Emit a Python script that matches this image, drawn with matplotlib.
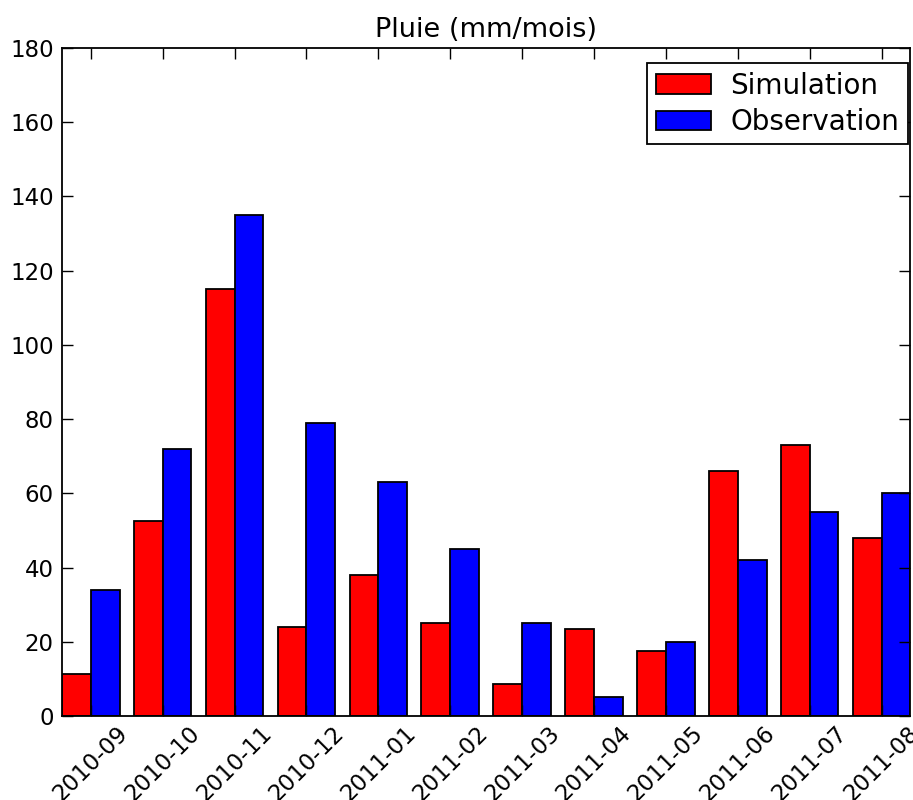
import numpy as np
import matplotlib
matplotlib.use("Agg")
import matplotlib.pyplot as plt

months = ["2010-09", "2010-10", "2010-11", "2010-12", "2011-01", "2011-02",
          "2011-03", "2011-04", "2011-05", "2011-06", "2011-07", "2011-08"]
simulation = [11.2, 52.5, 115, 24, 38, 25, 8.5, 23.5, 17.5, 66, 73, 48]
observation = [34, 72, 135, 79, 63, 45, 25, 5, 20, 42, 55, 60]

plt.rcParams['font.family'] = 'DejaVu Sans'

fig = plt.figure(figsize=(9.13, 8), dpi=100)
ax = fig.add_axes([0.068, 0.105, 0.929, 0.835])

x = np.arange(len(months))
w = 0.4
ax.bar(x, simulation, w, align='edge', color='red', edgecolor='black',
       linewidth=1.3, label='Simulation')
ax.bar(x + w, observation, w, align='edge', color='blue', edgecolor='black',
       linewidth=1.3, label='Observation')

ax.set_xlim(0, len(months) - 1 + 2 * w)
ax.set_ylim(0, 180)
ax.set_yticks(range(0, 181, 20))
ax.set_xticks(x + w)
ax.set_xticklabels(months, rotation=45, ha='center')

ax.tick_params(direction='in', top=True, right=True, length=8, width=1,
               labelsize=16.5, pad=6)
ax.tick_params(axis='x', pad=4)
for s in ax.spines.values():
    s.set_linewidth(1.3)

ax.set_title("Pluie (mm/mois)", fontsize=19.5, pad=8)
leg = ax.legend(loc='upper right', fontsize=20, fancybox=False,
                edgecolor='black', framealpha=1, handlelength=2.0,
                handleheight=0.7, borderaxespad=0.0, labelspacing=0.3,
                borderpad=0.3, handletextpad=0.7,
                bbox_to_anchor=(0.997, 0.977))
leg.get_frame().set_linewidth(1.3)

fig.savefig("out.png", dpi=100)
